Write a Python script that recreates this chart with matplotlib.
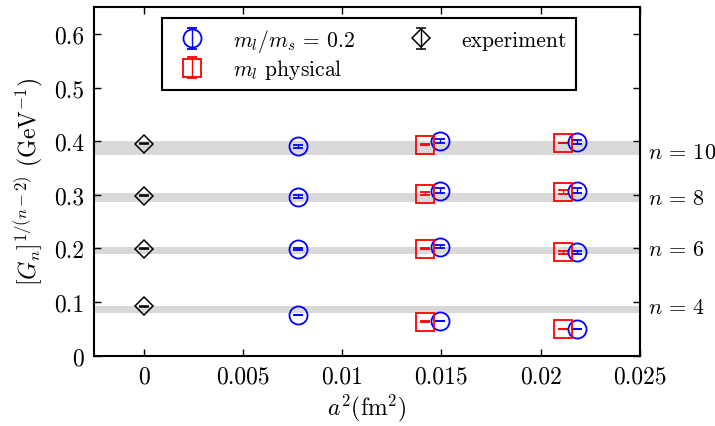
import matplotlib
matplotlib.use("Agg")
import matplotlib.pyplot as plt
from matplotlib.transforms import blended_transform_factory

plt.rcParams['font.family'] = 'serif'
plt.rcParams['font.serif'] = ['cmr10', 'DejaVu Serif']
plt.rcParams['mathtext.fontset'] = 'cm'
plt.rcParams['axes.unicode_minus'] = False

# ---- data ----
n_labels = [r"$n\,=\,10$", r"$n\,=\,8$", r"$n\,=\,6$", r"$n\,=\,4$"]
label_y = [0.380, 0.294, 0.199, 0.090]
band_lo = [0.374, 0.287, 0.189, 0.080]
band_hi = [0.401, 0.304, 0.202, 0.093]

a2_exp = [0.0, 0.0, 0.0, 0.0]
val_exp = [0.395, 0.298, 0.199, 0.092]
err_exp = [0.0008, 0.0008, 0.0008, 0.0008]

a2_blue = [0.00778] * 4 + [0.01491] * 4 + [0.02182] * 4
val_blue = [0.390, 0.2965, 0.199, 0.0757,
            0.3998, 0.3077, 0.2032, 0.0645,
            0.398, 0.3077, 0.1927, 0.0496]
err_blue = [0.003, 0.003, 0.002, 0.0008,
            0.004, 0.004, 0.003, 0.0008,
            0.004, 0.004, 0.003, 0.0008]

a2_red = [0.01418] * 4 + [0.0211] * 4
val_red = [0.3935, 0.302, 0.199, 0.0633,
           0.3966, 0.305, 0.1927, 0.0496]
err_red = [0.0008, 0.003, 0.0008, 0.0008,
           0.0008, 0.004, 0.003, 0.0008]

xticks = [0, 0.005, 0.01, 0.015, 0.02, 0.025]
xtick_labels = ["0", "0.005", "0.01", "0.015", "0.02", "0.025"]
yticks = [0, 0.1, 0.2, 0.3, 0.4, 0.5, 0.6]
ytick_labels = ["0", "0.1", "0.2", "0.3", "0.4", "0.5", "0.6"]

fig = plt.figure(figsize=(7.15, 4.27), dpi=100)
ax = fig.add_axes([0.1315, 0.165, 0.7635, 0.816])

for lo, hi in zip(band_lo, band_hi):
    ax.axhspan(lo, hi, color='#d9d9d9', lw=0, zorder=0)

h_blue = ax.errorbar(a2_blue, val_blue, yerr=err_blue, fmt='o', ms=13,
                     mfc='none', mec='blue', mew=1.3, ecolor='blue',
                     elinewidth=1.0, capsize=3.5, capthick=1.3, zorder=3,
                     label=r'$m_l/m_s\,=\,0.2$')
h_red = ax.errorbar(a2_red, val_red, yerr=err_red, fmt='s', ms=12.5,
                    mfc='none', mec='red', mew=1.3, ecolor='red',
                    elinewidth=1.0, capsize=3.5, capthick=1.3, zorder=3,
                    label=r'$m_l$ physical')
h_exp = ax.errorbar(a2_exp, val_exp, yerr=err_exp, fmt='D', ms=9.5,
                    mfc='none', mec='black', mew=1.1, ecolor='black',
                    elinewidth=1.0, capsize=3.5, capthick=1.3, zorder=3,
                    label='experiment')

ax.set_xlim(-0.0025, 0.025)
ax.set_ylim(0, 0.65)
ax.set_xticks(xticks)
ax.set_xticklabels(xtick_labels)
ax.set_yticks(yticks)
ax.set_yticklabels(ytick_labels)
ax.tick_params(direction='in', top=True, right=True, length=5, width=1,
               labelsize=17, pad=7)
for s in ax.spines.values():
    s.set_linewidth(1.5)

ax.set_xlabel(r'$a^2(\mathrm{fm}^2)$', fontsize=17, labelpad=3)
ax.set_ylabel(r'$[G_n]^{1/(n-2)}$ $(\mathrm{GeV}^{-1})$', fontsize=17, labelpad=6)

tr = blended_transform_factory(ax.transAxes, ax.transData)
for lab, y in zip(n_labels, label_y):
    ax.text(1.015, y, lab, transform=tr, fontsize=16, va='center', ha='left',
            clip_on=False)

leg = ax.legend(handles=[h_blue, h_red, h_exp], ncol=2,
                loc='upper left', bbox_to_anchor=(0.1245, 0.968),
                fontsize=15.5, frameon=True, fancybox=False,
                edgecolor='black', framealpha=1, borderaxespad=0,
                handlelength=2.0, handletextpad=0.9, columnspacing=2.05,
                labelspacing=0.15, borderpad=0.4)
leg.get_frame().set_linewidth(1.5)

fig.savefig('out.png', dpi=100)
